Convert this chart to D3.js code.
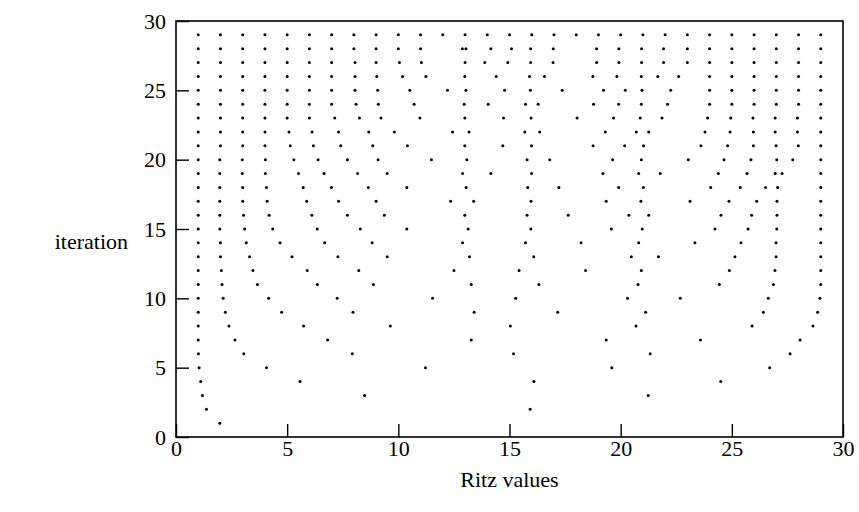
<!DOCTYPE html>
<html>
<head>
<meta charset="utf-8">
<script src="https://cdn.jsdelivr.net/npm/d3@7"></script>
<style>
  body { margin: 0; background: #fff; }
  text { font-family: "Liberation Serif", "DejaVu Serif", serif; }
</style>
</head>
<body>
<script>
var width = 859;
var height = 512;

var margin = {top: 21, left: 176, right: 16, bottom: 75};

var xTicks = [0, 5, 10, 15, 20, 25, 30];
var yTicks = [0, 5, 10, 15, 20, 25, 30];

// ritz values read per iteration (iteration k has k values)
var ritz = [
  [1.97],
  [1.37, 15.93],
  [1.19, 8.48, 21.24],
  [1.11, 5.58, 16.1, 24.5],
  [1.04, 4.07, 11.22, 19.6, 26.7],
  [1.01, 3.05, 7.93, 15.18, 21.33, 27.62],
  [1.0, 2.65, 6.82, 13.28, 19.35, 23.59, 28.07],
  [1.0, 2.38, 5.74, 9.64, 15.04, 20.69, 25.91, 28.65],
  [1.0, 2.22, 4.75, 7.96, 13.41, 17.17, 21.12, 26.42, 28.86],
  [1.0, 2.12, 4.17, 7.25, 11.54, 15.28, 20.31, 22.68, 26.64, 28.96],
  [1.0, 2.07, 3.66, 6.36, 8.88, 13.28, 16.32, 20.78, 24.44, 26.87, 29.0],
  [1.0, 2.04, 3.46, 5.9, 8.22, 12.5, 15.43, 18.42, 20.93, 24.89, 26.94, 29.0],
  [1.0, 2.0, 3.31, 5.22, 7.28, 9.5, 13.2, 16.09, 20.48, 21.7, 25.14, 26.99, 29.0],
  [1.0, 2.0, 3.16, 4.68, 6.69, 8.82, 12.89, 15.72, 18.22, 20.81, 23.34, 25.41, 26.99, 29.0],
  [1.0, 1.97, 3.09, 4.35, 6.35, 8.29, 10.38, 13.14, 15.96, 19.58, 20.97, 24.24, 25.73, 27.02, 29.0],
  [1.0, 1.97, 3.04, 4.19, 6.11, 7.71, 9.37, 12.99, 15.79, 17.64, 20.37, 21.26, 24.51, 25.89, 27.03, 29.0],
  [1.0, 1.97, 3.0, 4.1, 5.88, 7.31, 9.0, 12.35, 13.39, 15.97, 19.35, 20.91, 23.12, 24.87, 26.12, 27.03, 29.0],
  [1.0, 1.97, 3.0, 4.07, 5.72, 6.99, 8.65, 10.38, 13.05, 15.82, 17.22, 19.91, 21.02, 24.05, 25.38, 26.52, 27.06, 29.0],
  [1.0, 1.97, 2.98, 4.02, 5.51, 6.66, 8.17, 9.5, 12.89, 14.16, 15.99, 19.2, 20.81, 21.78, 24.39, 25.68, 26.95, 27.26, 29.0],
  [1.0, 1.97, 2.98, 4.02, 5.3, 6.39, 7.71, 9.09, 11.49, 13.08, 15.79, 16.81, 19.64, 20.93, 23.04, 24.65, 25.86, 27.02, 27.74, 29.0],
  [1, 2, 3, 4, 5.14, 6.18, 7.41, 8.85, 10.41, 12.99, 14.7, 15.99, 18.76, 20.18, 21.03, 23.61, 24.81, 25.97, 26.99, 27.99, 29],
  [1, 2, 3, 4, 5.08, 6.12, 7.31, 8.67, 9.82, 12.44, 13.18, 15.69, 16.36, 19.31, 20.7, 21.26, 23.79, 24.92, 25.97, 26.95, 27.95, 29],
  [1, 2, 3, 4, 5, 6, 7.14, 8.25, 9.22, 10.97, 12.99, 14.73, 15.97, 18.04, 19.68, 20.88, 21.86, 23.91, 24.95, 25.95, 26.95, 27.95, 29],
  [1, 2, 3, 4, 5, 6, 7, 8.1, 9.1, 10.71, 12.96, 14.04, 15.72, 16.29, 18.78, 19.91, 20.93, 22.11, 24, 25, 26, 27, 28, 29],
  [1, 2, 3, 4, 5, 6, 7, 8.05, 9.07, 10.52, 12.21, 13.04, 14.78, 15.94, 17.37, 19.23, 20.21, 20.96, 22.25, 24, 25, 26, 27, 28, 29],
  [1, 2, 3, 4, 5, 6, 7, 8.05, 9.03, 10.19, 11.24, 12.99, 14.4, 15.9, 16.57, 18.75, 19.83, 20.93, 21.67, 22.61, 24, 25, 26, 27, 28, 29],
  [1, 2, 3, 4, 5, 6, 7, 8.05, 9, 10.05, 11.04, 13, 13.89, 14.92, 15.95, 16.96, 18.92, 19.92, 20.94, 21.93, 23, 24, 25, 26, 27, 28, 29],
  [1, 2, 3, 4, 5, 6, 7, 8, 9, 10, 11, 12.88, 13.04, 14.16, 15.09, 15.95, 16.97, 18.92, 19.92, 20.94, 21.93, 23, 24, 25, 26, 27, 28, 29],
  [1, 2, 3, 4, 5, 6, 7, 8, 9, 10, 11, 12, 13, 14, 15, 16, 17, 18, 19, 20, 21, 22, 23, 24, 25, 26, 27, 28, 29]
];

var points = [];
ritz.forEach(function(row, i) {
  row.forEach(function(v) { points.push({x: v, y: i + 1}); });
});

var svg = d3.select("body")
  .append("svg")
  .attr("width", width)
  .attr("height", height);

var xScale = d3.scaleLinear()
  .domain([0, 30])
  .range([margin.left, width - margin.right]);

var yScale = d3.scaleLinear()
  .domain([0, 30])
  .range([height - margin.bottom, margin.top]);

// frame
svg.append("rect")
  .attr("x", xScale(0))
  .attr("y", yScale(30))
  .attr("width", xScale(30) - xScale(0))
  .attr("height", yScale(0) - yScale(30))
  .attr("fill", "none")
  .attr("stroke", "#000")
  .attr("stroke-width", 1.6);

var xAxis = svg.append("g")
  .attr("transform", "translate(0," + yScale(0) + ")")
  .call(d3.axisBottom(xScale).tickValues(xTicks).tickSize(-13).tickPadding(3));

var yAxis = svg.append("g")
  .attr("transform", "translate(" + xScale(0) + ",0)")
  .call(d3.axisLeft(yScale).tickValues(yTicks).tickSize(-13).tickPadding(10));

[xAxis, yAxis].forEach(function(g) {
  g.select(".domain").remove();
  g.selectAll(".tick line").attr("stroke", "#000").attr("stroke-width", 1.4);
  g.selectAll(".tick text")
    .attr("fill", "#000")
    .style("font-family", "'Liberation Serif', serif")
    .style("font-size", "22px");
});

svg.selectAll("circle.pt")
  .data(points)
  .enter()
  .append("circle")
    .attr("class", "pt")
    .attr("cx", function(d) { return xScale(d.x); })
    .attr("cy", function(d) { return yScale(d.y); })
    .attr("r", 1.5)
    .attr("fill", "#000");

svg.append("text")
  .attr("x", 128)
  .attr("y", yScale(15) + 20)
  .attr("text-anchor", "end")
  .style("font-size", "22px")
  .text("iteration");

svg.append("text")
  .attr("x", xScale(15))
  .attr("y", 487)
  .attr("text-anchor", "middle")
  .style("font-size", "22px")
  .text("Ritz values");
</script>
</body>
</html>
